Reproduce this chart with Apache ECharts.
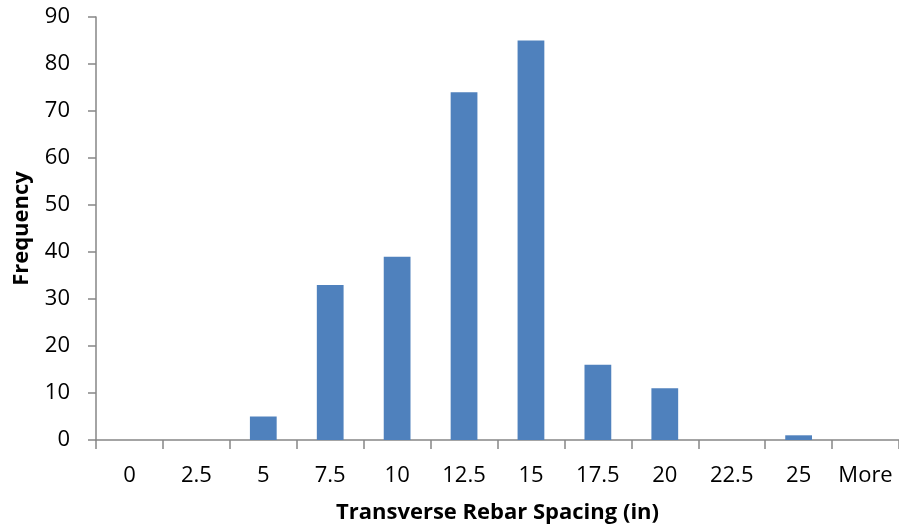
<!DOCTYPE html>
<html>
<head>
<meta charset="utf-8">
<script src="https://cdn.jsdelivr.net/npm/echarts@6/dist/echarts.min.js"></script>
<style>html,body{margin:0;padding:0;background:#fff}#c{width:899px;height:531px}</style>
</head>
<body>
<div id="c"></div>
<script>
const categories = ['0','2.5','5','7.5','10','12.5','15','17.5','20','22.5','25','More'];
const frequency = [0,0,5,33,39,74,85,16,11,0,1,0];
const yTicks = {min:0, max:90, interval:10};
const xTitle = 'Transverse Rebar Spacing (in)';
const yTitle = 'Frequency';

const font = '"Open Sans", "Noto Sans", sans-serif';
const axisColor = '#868686';
const chart = echarts.init(document.getElementById('c'), null, {renderer:'canvas'});
chart.setOption({
  animation:false,
  backgroundColor:'#fff',
  grid:{left:96, right:0, top:17, bottom:91, containLabel:false, outerBoundsMode:'none'},
  xAxis:{
    type:'category', data:categories,
    name:xTitle, nameLocation:'middle', nameGap:62,
    nameTextStyle:{fontFamily:font, fontWeight:'bold', fontSize:22, color:'#000'},
    axisLine:{lineStyle:{color:axisColor, width:1.5}},
    axisTick:{show:true, length:9, lineStyle:{color:axisColor, width:1.5}},
    axisLabel:{fontFamily:font, fontSize:22, color:'#000', margin:25, interval:0}
  },
  yAxis:{
    type:'value', min:yTicks.min, max:yTicks.max, interval:yTicks.interval,
    name:yTitle, nameLocation:'middle', nameGap:63, nameRotate:90,
    nameTextStyle:{fontFamily:font, fontWeight:'bold', fontSize:22, color:'#000'},
    axisLine:{show:true, lineStyle:{color:axisColor, width:1.5}},
    axisTick:{show:true, length:8, lineStyle:{color:axisColor, width:1.5}},
    splitLine:{show:false},
    axisLabel:{fontFamily:font, fontSize:22, color:'#000', margin:26}
  },
  series:[{
    type:'bar', data:frequency, barWidth:'40%',
    itemStyle:{color:'#4F81BD'}
  }]
});
</script>
</body>
</html>
